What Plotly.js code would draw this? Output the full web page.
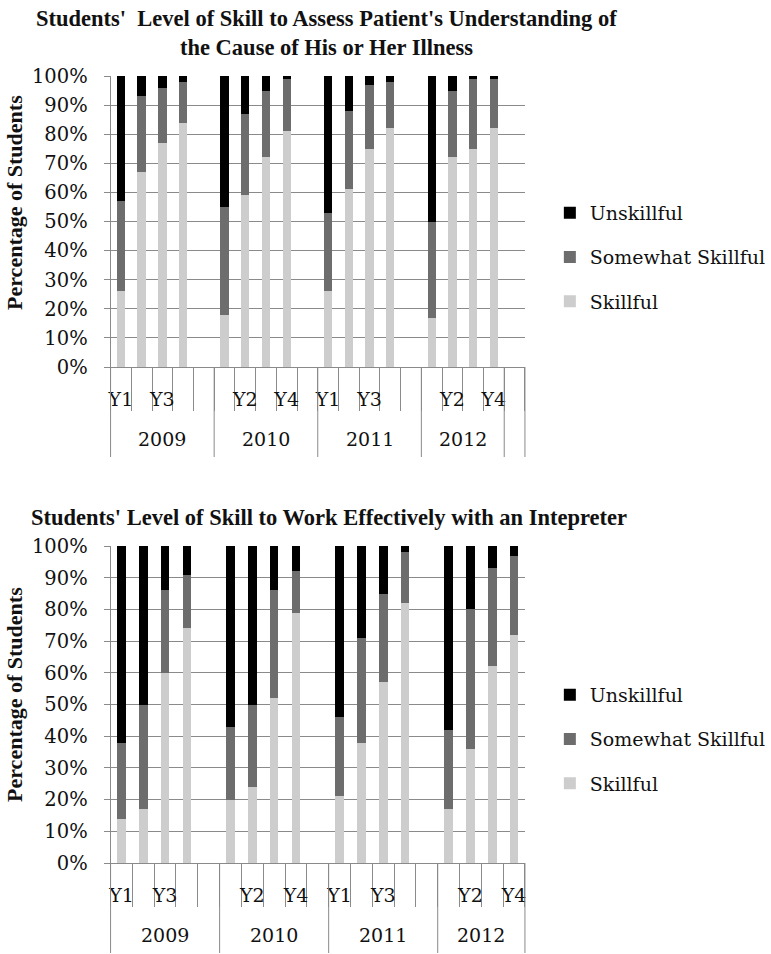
<!DOCTYPE html>
<html>
<head>
<meta charset="utf-8">
<script src="https://cdn.plot.ly/plotly-3.0.1.min.js"></script>
<style>
  html, body { margin: 0; padding: 0; background: #fff; }
  #chart { width: 771px; height: 954px; }
</style>
</head>
<body>
<div id="chart"></div>
<script>
// values (percent of students), order 2009 Y1..Y4, 2010 .., 2011 .., 2012 ..
var years = ['2009', '2010', '2011', '2012'];
var levels = ['Y1', 'Y2', 'Y3', 'Y4'];
var seriesNames = ['Skillful', 'Somewhat Skillful', 'Unskillful'];
var seriesColors = ['#cdcdcd', '#6d6d6d', '#000000'];

// top chart: understanding of the cause of illness
var skillfulTop = [26, 67, 77, 84, 18, 59, 72, 81, 26, 61, 75, 82, 17, 72, 75, 82];
var somewhatTop = [31, 26, 19, 14, 37, 28, 23, 18, 27, 27, 22, 16, 33, 23, 24, 17];
var unskillfulTop = [43, 7, 4, 2, 45, 13, 5, 1, 47, 12, 3, 2, 50, 5, 1, 1];

// bottom chart: working with an interpreter
var skillfulBot = [14, 17, 60, 74, 20, 24, 52, 79, 21, 38, 57, 82, 17, 36, 62, 72];
var somewhatBot = [24, 33, 26, 17, 23, 26, 34, 13, 25, 33, 28, 16, 25, 44, 31, 25];
var unskillfulBot = [62, 50, 14, 9, 57, 50, 14, 8, 54, 29, 15, 2, 58, 20, 7, 3];

// excel left an empty slot after each year (and an extra empty group on the top chart)
var groupsTop = [['2009', 5], ['2010', 5], ['2011', 5], ['2012', 4], ['', 1]];
var groupsBot = [['2009', 5], ['2010', 5], ['2011', 5], ['2012', 4]];

var W = 771, H = 954;
var GRID = '#8a8a8a';
var TXT = '#111111';
function px(x) { return x / W; }
function py(y) { return 1 - y / H; }

// build the category slots of one chart
function buildSlots(groups) {
  var names = [], labels = [], bounds = [-0.5], centers = [];
  var idx = 0;
  groups.forEach(function(g) {
    var start = idx;
    for (var k = 0; k < g[1]; k++) {
      var lvl = (g[0] && k < levels.length) ? levels[k] : '';
      names.push((g[0] || 'end') + ' ' + (lvl || 'gap' + k));
      labels.push(lvl);
      idx++;
    }
    bounds.push(idx - 0.5);
    if (g[0]) centers.push([g[0], (start + idx - 1) / 2]);
  });
  // excel skipped every second label
  var ticktext = labels.map(function(l, i) { return i % 2 === 0 ? l : ''; });
  return {names: names, labels: labels, ticktext: ticktext, bounds: bounds, centers: centers};
}

// spread 16 values over the slots, null in the gaps
function spread(slots, vals) {
  var out = [], j = 0;
  slots.labels.forEach(function(l) {
    if (l) { out.push(vals[j]); j++; } else { out.push(null); }
  });
  return out;
}

var slotsTop = buildSlots(groupsTop);
var slotsBot = buildSlots(groupsBot);

var dataTop = [skillfulTop, somewhatTop, unskillfulTop];
var dataBot = [skillfulBot, somewhatBot, unskillfulBot];

var traces = [];
for (var s = 0; s < 3; s++) {
  traces.push({
    type: 'bar', x: slotsTop.names, y: spread(slotsTop, dataTop[s]),
    xaxis: 'x', yaxis: 'y', name: seriesNames[s],
    marker: {color: seriesColors[s], line: {width: 0}},
    legend: 'legend', legendgroup: 't' + s, legendrank: 3 - s, hoverinfo: 'y+name'
  });
}
for (var s = 0; s < 3; s++) {
  traces.push({
    type: 'bar', x: slotsBot.names, y: spread(slotsBot, dataBot[s]),
    xaxis: 'x2', yaxis: 'y2', name: seriesNames[s],
    marker: {color: seriesColors[s], line: {width: 0}},
    legend: 'legend2', legendgroup: 'b' + s, legendrank: 3 - s, hoverinfo: 'y+name'
  });
}

// plot areas in pixels
var plotTop = {x0: 111, x1: 527, y0: 76, y1: 367};
var plotBot = {x0: 111, x1: 527, y0: 546, y1: 863};

function xAxis(slots, box, anchor) {
  return {
    type: 'category', categoryorder: 'array', categoryarray: slots.names,
    range: [-0.5, slots.names.length - 0.5],
    domain: [px(box.x0), px(box.x1)], anchor: anchor,
    tickmode: 'array', tickvals: slots.names, ticktext: slots.ticktext,
    tickson: 'boundaries', ticks: 'outside', ticklen: 43, tickwidth: 1, tickcolor: GRID,
    ticklabelstandoff: 15,
    showline: true, linecolor: GRID, linewidth: 1, showgrid: false,
    tickfont: {family: 'DejaVu Serif', size: 19, color: TXT},
    tickangle: 0, fixedrange: true
  };
}
function yAxis(box, anchor) {
  return {
    range: [0, 100], dtick: 10, ticksuffix: '%',
    domain: [py(box.y1), py(box.y0)], anchor: anchor,
    showgrid: true, gridcolor: GRID, gridwidth: 1, zeroline: false,
    ticks: 'outside', ticklen: 6, tickcolor: GRID,
    showline: true, linecolor: GRID, linewidth: 1,
    ticklabelstandoff: 12,
    tickfont: {family: 'DejaVu Serif', size: 19.5, color: TXT},
    fixedrange: true
  };
}

// year dividers and labels under each axis
var shapes = [], annotations = [];
function yearRow(slots, box, xref) {
  var n = slots.names.length;
  slots.bounds.forEach(function(b) {
    var xp = px(box.x0 + (b + 0.5) / n * (box.x1 - box.x0));
    shapes.push({type: 'line', xref: 'paper', yref: 'paper',
      x0: xp, x1: xp, y0: py(box.y1), y1: py(box.y1 + 90),
      line: {color: GRID, width: 1}});
  });
  slots.centers.forEach(function(c) {
    annotations.push({xref: xref, yref: 'paper', x: c[1], y: py(box.y1 + 72),
      text: c[0], showarrow: false, xanchor: 'center', yanchor: 'middle',
      font: {family: 'DejaVu Serif', size: 19, color: TXT}});
  });
}
yearRow(slotsTop, plotTop, 'x');
yearRow(slotsBot, plotBot, 'x2');

// titles
var titleFont = {family: 'Liberation Serif', size: 22.5, color: TXT, weight: 'bold'};
annotations.push({xref: 'paper', yref: 'paper', x: px(328), y: py(19), showarrow: false,
  xanchor: 'center', yanchor: 'middle',
  text: "Students'  Level of Skill to Assess Patient's Understanding of", font: titleFont});
annotations.push({xref: 'paper', yref: 'paper', x: px(328), y: py(48), showarrow: false,
  xanchor: 'center', yanchor: 'middle',
  text: 'the Cause of His or Her Illness', font: titleFont});
annotations.push({xref: 'paper', yref: 'paper', x: px(330), y: py(517), showarrow: false,
  xanchor: 'center', yanchor: 'middle',
  text: "Students' Level of Skill to Work Effectively with an Intepreter", font: titleFont});

// y axis titles
[[plotTop, 202], [plotBot, 694]].forEach(function(p) {
  annotations.push({xref: 'paper', yref: 'paper', x: px(14), y: py(p[1]), showarrow: false,
    xanchor: 'center', yanchor: 'middle', textangle: -90, text: 'Percentage of Students',
    font: {family: 'Liberation Serif', size: 22, color: TXT, weight: 'bold'}});
});

function legendAt(top) {
  return {
    x: px(552), xanchor: 'left', y: py(top), yanchor: 'top',
    traceorder: 'grouped', tracegroupgap: 16.5,
    font: {family: 'DejaVu Serif', size: 19, color: TXT},
    bgcolor: 'rgba(0,0,0,0)', itemclick: false, itemdoubleclick: false
  };
}

var layout = {
  width: W, height: H,
  margin: {l: 0, r: 0, t: 0, b: 0},
  paper_bgcolor: '#ffffff', plot_bgcolor: '#ffffff',
  barmode: 'stack', bargap: 0.6,
  xaxis: xAxis(slotsTop, plotTop, 'y'),
  yaxis: yAxis(plotTop, 'x'),
  xaxis2: xAxis(slotsBot, plotBot, 'y2'),
  yaxis2: yAxis(plotBot, 'x2'),
  legend: legendAt(194),
  legend2: legendAt(676),
  shapes: shapes,
  annotations: annotations,
  showlegend: true
};

Plotly.newPlot('chart', traces, layout, {displayModeBar: false, staticPlot: true});
</script>
</body>
</html>
